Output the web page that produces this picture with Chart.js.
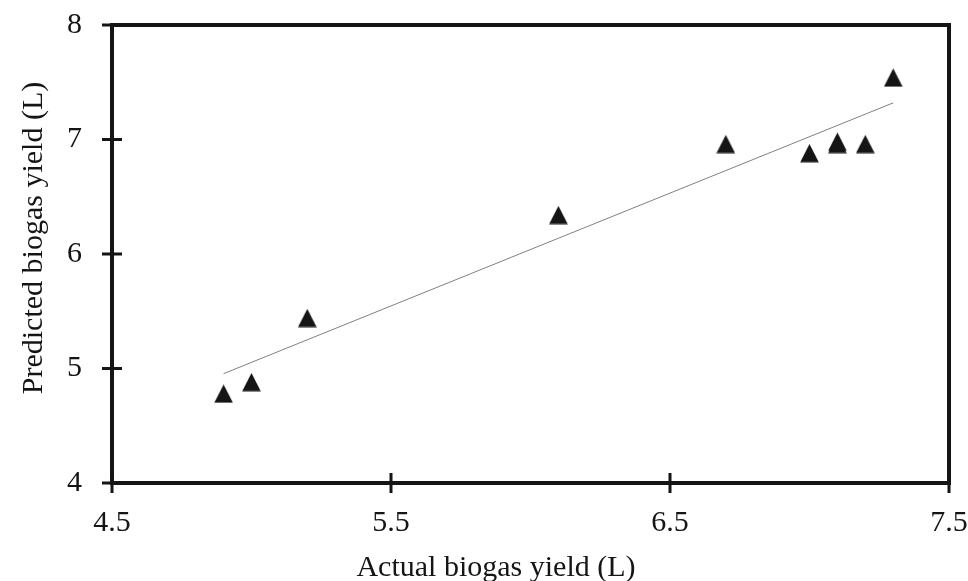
<!DOCTYPE html>
<html>
<head>
<meta charset="utf-8">
<script src="https://cdn.jsdelivr.net/npm/chart.js@4/dist/chart.umd.min.js"></script>
<style>
  html, body { margin: 0; padding: 0; background: #ffffff; }
  #wrap { width: 968px; height: 581px; }
</style>
</head>
<body>
<div id="wrap"><canvas id="c" width="968" height="581"></canvas></div>
<script>
// Data
const actualYield = [4.9, 5.0, 5.2, 6.1, 6.7, 7.0, 7.1, 7.1, 7.2, 7.3];
const predictedYield = [4.78, 4.88, 5.44, 6.34, 6.96, 6.88, 6.96, 6.98, 6.96, 7.54];
const trendX = [4.9, 7.3];
const trendY = [4.955, 7.32];
const xTicks = [4.5, 5.5, 6.5, 7.5];
const yTicks = [4, 5, 6, 7, 8];
const xTitle = 'Actual biogas yield (L)';
const yTitle = 'Predicted biogas yield (L)';

const FONT = '"Liberation Serif", "Times New Roman", serif';
const INK = '#151515';

// triangle marker
const tri = document.createElement('canvas');
tri.width = 19; tri.height = 19;
(function () {
  const g = tri.getContext('2d');
  g.fillStyle = INK;
  g.beginPath();
  g.moveTo(9.5, 0.3);
  g.lineTo(18.8, 18.6);
  g.lineTo(0.2, 18.6);
  g.closePath();
  g.fill();
})();

const points = actualYield.map((x, i) => ({ x: x, y: predictedYield[i] }));
const trend = trendX.map((x, i) => ({ x: x, y: trendY[i] }));

const framePlugin = {
  id: 'frame',
  afterDraw(chart) {
    const ctx = chart.ctx;
    const a = chart.chartArea;
    const xs = chart.scales.x, ys = chart.scales.y;
    ctx.save();
    ctx.strokeStyle = INK;
    ctx.lineWidth = 4;
    ctx.lineCap = 'square';
    ctx.strokeRect(a.left, a.top, a.right - a.left, a.bottom - a.top);
    ctx.lineWidth = 3;
    ctx.lineCap = 'butt';
    ctx.beginPath();
    xTicks.forEach(v => {
      const px = xs.getPixelForValue(v);
      ctx.moveTo(px, a.bottom - 10);
      ctx.lineTo(px, a.bottom + 10);
    });
    yTicks.forEach(v => {
      const py = ys.getPixelForValue(v);
      ctx.moveTo(a.left - 10, py);
      ctx.lineTo(a.left + 10, py);
    });
    ctx.stroke();
    // axis titles
    ctx.fillStyle = INK;
    ctx.font = '30px ' + FONT;
    ctx.textAlign = 'center';
    ctx.textBaseline = 'alphabetic';
    ctx.fillText(xTitle, 496, 576);
    ctx.translate(42, 238);
    ctx.rotate(-Math.PI / 2);
    ctx.fillText(yTitle, 0, 0);
    ctx.restore();
  }
};

function noOverflow(s) {
  s.paddingTop = 0; s.paddingBottom = 0;
  s.paddingLeft = 0; s.paddingRight = 0;
}

new Chart(document.getElementById('c'), {
  type: 'scatter',
  data: {
    datasets: [
      {
        label: 'Predicted',
        data: points,
        pointStyle: tri,
        pointRadius: 10,
        pointHoverRadius: 10,
        order: 1
      },
      {
        label: 'Trend',
        type: 'line',
        data: trend,
        showLine: true,
        borderColor: '#808080',
        borderWidth: 1,
        pointRadius: 0,
        fill: false,
        order: 2
      }
    ]
  },
  options: {
    responsive: false,
    animation: false,
    events: [],
    layout: { padding: { left: 0, right: 19, top: 25, bottom: 0 } },
    plugins: {
      legend: { display: false },
      tooltip: { enabled: false },
      title: { display: false }
    },
    scales: {
      x: {
        type: 'linear',
        min: 4.5, max: 7.5,
        afterBuildTicks: s => { s.ticks = xTicks.map(v => ({ value: v })); },
        afterFit: s => { s.height = 98; noOverflow(s); },
        grid: { display: false, drawTicks: false },
        border: { display: false },
        ticks: {
          padding: 22,
          color: INK,
          font: { family: FONT, size: 30 },
          callback: v => v.toFixed(1),
          maxRotation: 0
        }
      },
      y: {
        type: 'linear',
        min: 4, max: 8,
        afterBuildTicks: s => { s.ticks = yTicks.map(v => ({ value: v })); },
        afterFit: s => { s.width = 112; noOverflow(s); },
        grid: { display: false, drawTicks: false },
        border: { display: false },
        ticks: {
          padding: 30,
          color: INK,
          font: { family: FONT, size: 30 },
          callback: v => String(v)
        }
      }
    }
  },
  plugins: [framePlugin]
});
</script>
</body>
</html>
